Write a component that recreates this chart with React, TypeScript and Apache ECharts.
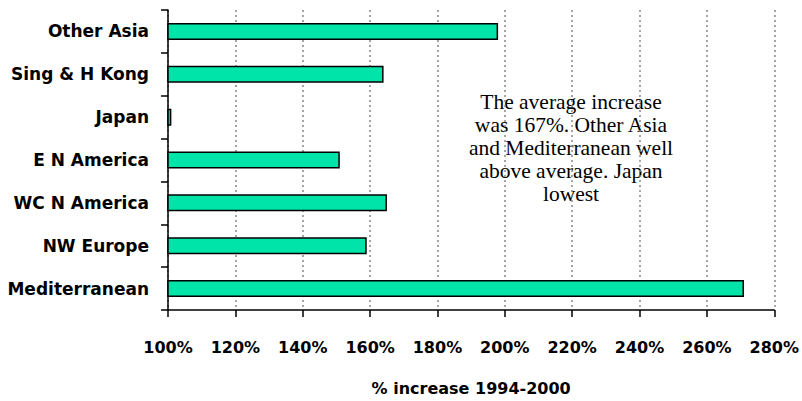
import React, { useEffect, useRef } from "react";
import * as echarts from "echarts";

// Regions, top to bottom
const regions = [
  "Other Asia",
  "Sing & H Kong",
  "Japan",
  "E N America",
  "WC N America",
  "NW Europe",
  "Mediterranean",
];

// Index level in 2000 relative to 1994 (1994 = 100%)
const increase = [198, 164, 101, 151, 165, 159, 271];

const axisMin = 100;
const axisMax = 280;
const axisStep = 20;

const noteLines = [
  "The average increase",
  "was 167%. Other Asia",
  "and Mediterranean well",
  "above average. Japan",
  "lowest",
];

const labelFont = "'DejaVu Sans', sans-serif";

export default function App() {
  const ref = useRef<HTMLDivElement>(null);

  useEffect(() => {
    if (!ref.current) return;
    const chart = echarts.init(ref.current, null, { renderer: "svg" });
    chart.setOption({
      animation: false,
      backgroundColor: "#ffffff",
      grid: { left: 168, right: 25, top: 10, bottom: 86, containLabel: false },
      xAxis: {
        type: "value",
        min: axisMin,
        max: axisMax,
        interval: axisStep,
        name: "% increase 1994-2000",
        nameLocation: "middle",
        nameGap: 70,
        nameTextStyle: {
          fontFamily: labelFont,
          fontWeight: "bold",
          fontSize: 16,
          color: "#000",
        },
        axisLine: { show: true, lineStyle: { color: "#000", width: 1.5 } },
        axisTick: { show: true, length: 7, lineStyle: { color: "#000", width: 1.5 } },
        axisLabel: {
          margin: 29,
          formatter: (v: number) => `${v}%`,
          fontFamily: labelFont,
          fontWeight: "bold",
          fontSize: 16,
          color: "#000",
        },
        splitLine: {
          show: true,
          lineStyle: { color: "#888", width: 1.5, type: [2, 3] },
        },
      },
      yAxis: {
        type: "category",
        data: regions,
        inverse: true,
        axisLine: { show: true, lineStyle: { color: "#000", width: 1.5 } },
        axisTick: { show: true, length: 7, lineStyle: { color: "#000", width: 1.5 } },
        axisLabel: {
          margin: 19,
          fontFamily: labelFont,
          fontWeight: "bold",
          fontSize: 17,
          color: "#000",
        },
        splitLine: { show: false },
      },
      series: [
        {
          type: "bar",
          data: increase,
          barWidth: 17,
          clip: true,
          itemStyle: {
            color: "#00e3a9",
            borderColor: "#000",
            borderWidth: 1.5,
          },
        },
      ],
      graphic: [
        {
          type: "text",
          x: 571,
          y: 148,
          style: {
            text: noteLines.join("\n"),
            align: "center",
            verticalAlign: "middle",
            fontFamily: "'Liberation Serif', 'Times New Roman', serif",
            fontSize: 21.5,
            lineHeight: 23,
            fill: "#000",
          },
        },
      ],
    });
    return () => chart.dispose();
  }, []);

  return (
    <div
      ref={ref}
      style={{ position: "fixed", left: 0, top: 0, width: 802, height: 401 }}
    />
  );
}
